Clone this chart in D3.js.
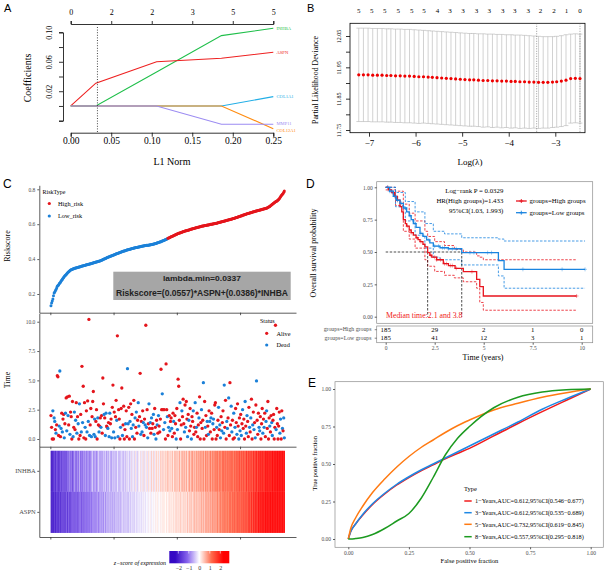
<!DOCTYPE html>
<html>
<head>
<meta charset="utf-8">
<title>Risk model figure</title>
<script src="https://cdnjs.cloudflare.com/ajax/libs/d3/7.8.5/d3.min.js"></script>
<style>
    body { margin: 0; background: #fff; }
    svg { display: block; font-family: "Liberation Serif", "DejaVu Serif", serif; }
</style>
</head>
<body>
<svg id="fig" width="608" height="576"></svg>
<script>
// ---------------- data ----------------
// A: lasso coefficient paths
const l1Knots = [0, 0.031, 0.106, 0.186, 0.25];
const coefINHBA = [0, 0, 0.046, 0.0955, 0.1054];
const coefASPN = [0, 0.031, 0.060, 0.0647, 0.0729];
const coefCOL1A1 = [0, 0, 0, 0, 0.0127];
const coefMMP11 = [0, 0, 0, -0.0249, -0.0249];
const coefCOL12A1 = [0, 0, 0, 0, -0.0308];
const l1Ticks = [0, 0.05, 0.10, 0.15, 0.20, 0.25];
const l1TopLabels = ["0", "2", "2", "3", "5", "5"];
const coefTicks = [-0.02, 0, 0.02, 0.04, 0.06, 0.08, 0.10];
const coefShown = ["-0.02", "0.02", "0.06", "0.10"];
const l1Min = 0.033;

// B: cross-validation curve
const logLambda = [-7.22,-7.12,-7.02,-6.92,-6.82,-6.72,-6.62,-6.53,-6.43,-6.33,-6.23,-6.13,-6.03,-5.93,-5.83,-5.73,-5.64,-5.54,-5.44,-5.34,-5.24,-5.14,-5.04,-4.94,-4.84,-4.75,-4.65,-4.55,-4.45,-4.35,-4.25,-4.15,-4.05,-3.95,-3.86,-3.76,-3.66,-3.56,-3.46,-3.36,-3.26,-3.16,-3.06,-2.97,-2.87,-2.77,-2.67,-2.57,-2.47];
const cvDev = [11.926,11.926,11.926,11.925,11.925,11.925,11.924,11.924,11.923,11.923,
  11.922,11.922,11.921,11.920,11.920,11.919,11.918,11.917,11.916,11.915,
  11.914,11.913,11.912,11.911,11.910,11.910,11.909,11.908,11.908,11.907,
  11.907,11.906,11.906,11.905,11.905,11.904,11.904,11.903,11.903,11.902,
  11.902,11.902,11.903,11.904,11.906,11.909,11.914,11.915,11.914];
const cvUp = [12.075,12.075,12.075,12.074,12.074,12.074,12.073,12.073,12.072,12.072,
  12.071,12.071,12.070,12.069,12.068,12.067,12.066,12.065,12.064,12.063,
  12.062,12.061,12.060,12.059,12.058,12.058,12.057,12.057,12.056,12.056,
  12.055,12.055,12.054,12.054,12.053,12.053,12.052,12.051,12.050,12.049,
  12.048,12.048,12.048,12.049,12.051,12.054,12.056,12.057,12.056];
const cvLo = [11.777,11.777,11.777,11.776,11.776,11.776,11.775,11.775,11.774,11.774,
  11.773,11.773,11.772,11.771,11.772,11.771,11.770,11.769,11.768,11.767,
  11.766,11.765,11.764,11.763,11.762,11.762,11.761,11.759,11.760,11.758,
  11.759,11.757,11.758,11.756,11.757,11.755,11.756,11.755,11.756,11.755,
  11.756,11.756,11.758,11.759,11.761,11.764,11.772,11.773,11.772];
const topPosB = [-7.22,-6.94,-6.66,-6.37,-6.08,-5.82,-5.53,-5.26,-4.98,-4.69,-4.42,-4.13,-3.87,-3.58,-3.32,-3.03,-2.76,-2.47];
const topLabB = ["5","5","5","5","5","5","4","3","3","3","3","3","3","3","2","2","1","0"];
const devTicks = [11.75, 11.80, 11.85, 11.90, 11.95, 12.00, 12.05];
const devShown = ["11.75", "11.85", "11.95", "12.05"];
const lambdaLines = [-3.40, -2.47];

// C: risk score, survival status, expression heatmap (patients sorted by risk score)
const riskScore = [0.133,0.148,0.16,0.172,0.19,0.206,0.212,0.219,0.226,0.235,
  0.244,0.248,0.252,0.258,0.263,0.268,0.274,0.279,0.285,0.29,
  0.295,0.3,0.304,0.308,0.312,0.316,0.32,0.324,0.328,0.331,
  0.334,0.337,0.339,0.341,0.342,0.344,0.345,0.347,0.348,0.349,
  0.350,0.351,0.352,0.353,0.354,0.355,0.356,0.358,0.359,0.360,
  0.361,0.362,0.363,0.364,0.365,0.366,0.367,0.368,0.369,0.370,
  0.371,0.372,0.373,0.374,0.375,0.376,0.377,0.378,0.380,0.381,
  0.382,0.383,0.384,0.385,0.386,0.387,0.388,0.389,0.390,0.392,
  0.394,0.395,0.397,0.399,0.400,0.402,0.404,0.405,0.407,0.409,
  0.410,0.412,0.413,0.415,0.417,0.418,0.419,0.421,0.422,0.424,
  0.425,0.427,0.428,0.430,0.431,0.432,0.434,0.435,0.437,0.438,
  0.439,0.441,0.442,0.443,0.445,0.446,0.447,0.448,0.449,0.450,
  0.452,0.453,0.454,0.455,0.456,0.457,0.458,0.459,0.460,0.461,
  0.462,0.463,0.464,0.465,0.466,0.466,0.467,0.468,0.469,0.470,
  0.471,0.471,0.472,0.473,0.474,0.475,0.475,0.476,0.477,0.478,
  0.478,0.479,0.479,0.480,0.480,0.481,0.481,0.482,0.482,0.483,
  0.484,0.485,0.486,0.487,0.488,0.489,0.490,0.491,0.493,0.494,
  0.495,0.496,0.498,0.499,0.500,0.502,0.503,0.505,0.507,0.508,
  0.510,0.512,0.513,0.515,0.517,0.519,0.521,0.522,0.524,0.526,
  0.528,0.530,0.531,0.533,0.535,0.537,0.538,0.540,0.542,0.543,
  0.545,0.546,0.548,0.549,0.550,0.552,0.553,0.554,0.556,0.557,
  0.558,0.559,0.561,0.562,0.563,0.564,0.565,0.566,0.567,0.568,
  0.570,0.571,0.572,0.573,0.574,0.575,0.576,0.577,0.578,0.579,
  0.580,0.581,0.582,0.583,0.584,0.585,0.586,0.587,0.588,0.589,
  0.590,0.590,0.591,0.592,0.593,0.593,0.594,0.595,0.596,0.596,
  0.597,0.598,0.599,0.599,0.600,0.601,0.601,0.602,0.603,0.604,
  0.604,0.605,0.606,0.607,0.608,0.609,0.610,0.611,0.612,0.613,
  0.614,0.615,0.616,0.617,0.618,0.619,0.620,0.621,0.622,0.623,
  0.624,0.625,0.626,0.627,0.628,0.629,0.630,0.631,0.632,0.633,
  0.634,0.635,0.637,0.638,0.639,0.640,0.642,0.643,0.644,0.646,
  0.647,0.648,0.649,0.651,0.652,0.653,0.655,0.656,0.657,0.659,
  0.660,0.661,0.662,0.663,0.664,0.665,0.666,0.667,0.669,0.670,
  0.671,0.672,0.673,0.674,0.675,0.676,0.677,0.678,0.679,0.680,
  0.681,0.682,0.683,0.684,0.685,0.686,0.687,0.688,0.689,0.690,
  0.691,0.692,0.694,0.696,0.698,0.700,0.702,0.705,0.708,0.711,
  0.714,0.717,0.720,0.723,0.726,0.728,0.730,0.733,0.735,0.738,
  0.742,0.746,0.751,0.757,0.763,0.768,0.772,0.776,0.783,0.790];
const nLowRisk = 185;
const survTime = [2.0,1.0,0.0,2.4,0.0,1.8,1.5,0.8,0.5,1.2,
  5.4,5.3,0.3,1.1,5.8,0.2,0.9,2.2,0.6,1.7,
  2.1,0.1,1.3,2.2,3.5,0.7,3.6,2.0,1.2,3.65,
  0.4,2.3,1.9,0.0,3.2,0.2,1.0,2.3,0.8,1.6,
  3.1,0.5,1.9,1.3,0.0,3.0,0.3,2.1,0.6,6.2,
  1.4,4.5,0.1,3.1,1.0,0.0,2.4,0.6,3.25,1.5,
  10.2,0.3,1.2,2.6,0.2,1.9,3.2,4.05,0.4,1.7,
  0.2,1.5,2.5,0.0,1.8,1.2,0.6,1.1,1.8,1.0,
  2.0,0.5,5.2,3.0,2.1,1.8,0.3,2.2,1.1,1.0,
  0.9,1.4,0.2,2.2,1.3,1.7,0.1,2.7,4.6,0.6,
  2.3,0.1,1.9,3.3,1.6,8.8,0.2,2.5,1.7,0.0,
  1.0,2.6,4.35,0.3,1.2,2.8,0.0,0.8,1.3,2.4,
  0.2,6.0,1.3,2.7,0.0,1.5,3.0,0.9,2.1,0.2,
  1.2,3.3,0.0,1.8,1.0,2.3,0.5,1.6,3.1,1.1,
  1.9,5.6,0.4,1.5,0.6,2.4,1.4,0.3,1.7,1.2,
  9.7,1.0,2.5,0.1,1.3,3.0,0.9,1.4,0.5,1.8,
  0.9,1.3,2.1,0.4,2.6,1.0,0.0,1.6,1.2,0.5,
  2.0,1.1,0.6,1.7,5.95,2.5,3.85,2.5,0.8,2.5,
  1.4,0.0,6.4,2.5,1.9,0.3,1.0,2.0,0.7,1.5,
  1.8,0.9,0.2,2.2,1.5,0.5,2.0,1.3,0.0,2.6,
  0.8,5.1,4.5,1.6,3.1,0.0,1.2,2.4,1.9,3.4,
  1.3,0.6,2.9,1.0,3.2,1.7,0.2,2.1,1.6,0.7,
  2.6,1.1,0.0,1.9,1.5,2.4,0.4,1.0,3.1,0.6,
  1.0,2.2,0.2,1.2,1.8,3.6,0.0,1.4,2.5,0.9,
  1.6,4.8,0.0,3.2,1.0,2.0,0.3,1.5,1.1,0.4,
  2.4,1.5,0.6,1.8,2.2,0.0,1.3,1.7,0.8,2.9,
  3.1,0.0,1.0,0.3,1.6,2.7,0.8,1.2,0.1,1.9,
  0.7,1.4,2.4,0.5,4.6,1.0,3.3,0.0,1.5,0.9,
  1.8,3.5,0.3,4.8,1.2,2.8,0.6,1.6,0.0,2.2,
  0.1,1.0,2.6,1.4,0.4,3.0,1.1,0.0,1.8,0.7,
  2.1,0.3,1.3,2.5,0.9,1.7,0.0,3.2,1.1,0.5,
  2.0,1.5,0.2,2.7,1.0,0.6,1.8,3.4,0.0,1.2,
  2.3,0.8,1.4,0.1,2.9,4.95,1.6,0.4,2.2,1.0,
  0.7,1.9,0.0,1.3,2.6,0.5,1.7,1.0,2.2,0.2,
  1.5,2.4,0.9,3.2,0.0,1.8,1.1,0.6,2.0,1.4,
  0.3,1.6,2.1,0.0,1.0,9.7,0.8,2.6,1.3,0.0,
  1.1,2.3,0.5,1.7,0.0,2.4,0.9,0.7,1.8,0.1];
// A = Alive, D = Dead
const survStatus = ("AAADADDADA" + "AAADDADADA" + "ADADADADAA" + "DAAAADADAD" + "ADADADAADA" +
  "DAAADAADAD" + "ADAADAAADD" + "DAAADADAAD" + "AAAADADDAA" + "DADDAADAAD" +
  "ADAADADAAA" + "DAADAAAADA" + "ADDAADADAD" + "DAADADAADD" + "AADADADAAD" +
  "ADADADADAD" + "AADDAADADA" + "DAAAAADADA" + "DAAADADADA" + "ADAADAAADA" +
  "DAAADAADAA" + "ADADAADADA" + "AADAADAADA" + "DAAADAAADA" + "ADAADAADAD" +
  "ADADAADDAA" + "AADAADADDA" + "DAADDAAADD" + "ADAAADDAAD" + "ADAADAADAD" +
  "ADADAAADAD" + "DAAADADAAD" + "ADADADAAAD" + "DAAAADADAA" + "DDAAAADAAD" +
  "DAAAAADAAA" + "AADDAADADD").split("");
const exprINHBA = [-2.8,-2.3,-2.0,-2.2,-1.8,-2.1,-1.6,-1.9,-2.0,-1.5,
  -1.8,-1.4,-2.1,-1.7,-1.9,-1.3,-1.6,-2.0,-1.2,-1.7,
  -1.5,-1.9,-1.1,-1.6,-1.4,-1.8,-1.0,-1.5,-1.3,-0.6,
  -1.6,-1.2,-1.4,-0.9,-1.7,-1.1,-1.3,-0.5,-1.4,-1.2,
  -1.0,-1.5,-0.8,-1.3,-1.1,-0.4,-1.2,-1.4,-0.9,-1.1,
  -1.3,-0.7,-1.0,-1.2,-0.3,-1.1,-0.9,-1.3,-0.8,-1.0,
  -0.6,-1.2,-0.9,-1.0,-0.5,-1.1,-0.2,-0.8,-1.0,-0.7,
  -0.9,-0.4,-1.1,-0.6,-0.8,-0.1,-0.9,-0.7,-0.5,-1.0,
  -0.7,-0.5,-0.9,-0.3,-0.8,-0.6,-0.2,-0.7,-0.9,-0.4,
  -0.6,-0.8,-0.1,-0.5,-0.7,-0.4,-0.9,-0.3,-0.6,-0.5,
  -0.8,-0.2,-0.6,-0.4,-0.7,0.0,-0.5,-0.6,-0.3,-0.8,
  -0.4,-0.6,-0.1,-0.5,-0.3,-0.7,-0.2,-0.4,-0.6,0.1,
  -0.5,-0.3,-0.4,-0.1,-0.6,-0.2,-0.3,0.2,-0.5,-0.2,
  -0.3,0.1,-0.4,-0.2,0.3,-0.3,-0.1,-0.5,0.2,-0.2,
  0.0,-0.3,0.3,-0.1,-0.4,0.2,-0.2,0.4,-0.3,0.1,
  -0.2,0.3,0.0,-0.4,0.2,0.4,-0.1,0.1,-0.3,0.5,
  0.1,-0.2,0.4,0.2,-0.3,0.3,0.0,0.5,-0.1,0.2,
  0.4,0.1,-0.2,0.5,0.2,0.3,0.6,-0.1,0.4,0.2,
  0.3,0.5,0.1,0.4,0.7,0.2,0.5,0.0,0.6,0.3,
  0.5,0.2,0.6,0.4,0.1,0.7,0.3,0.5,0.8,0.2,
  0.4,0.6,0.3,0.8,0.5,0.2,0.7,0.4,0.6,0.9,
  0.3,0.7,0.5,0.4,0.8,0.6,0.2,0.7,0.5,0.9,
  0.6,0.4,0.8,0.5,1.0,0.7,0.3,0.8,0.6,0.5,
  0.9,0.6,0.7,1.0,0.4,0.8,0.6,1.1,0.7,0.9,
  0.7,1.0,0.8,0.5,1.1,0.9,0.7,1.2,0.8,0.6,
  1.0,0.8,1.2,0.9,0.7,1.1,1.0,0.8,1.3,0.9,
  1.1,0.9,1.2,1.0,1.4,0.8,1.1,1.3,1.0,1.2,
  0.9,1.3,1.1,1.5,1.0,1.2,1.4,0.9,1.3,1.1,
  1.4,1.2,1.0,1.5,1.3,1.1,1.6,1.2,1.4,1.0,
  1.3,1.5,1.2,1.7,1.1,1.4,1.6,1.3,1.5,1.8,
  1.2,1.6,1.4,1.3,1.8,1.5,1.2,1.7,1.4,1.9,
  1.6,1.4,1.9,1.5,1.7,1.3,2.0,1.6,1.8,1.5,
  1.8,2.1,1.6,1.9,1.7,2.2,1.8,1.6,2.0,1.9,
  2.1,1.8,2.3,1.9,2.0,2.4,1.7,2.2,2.0,2.5,
  1.9,2.3,2.1,2.6,2.0,2.2,2.4,1.9,2.5,2.2,
  2.3,2.6,2.1,2.4,2.7,2.2,2.5,2.8,2.3,2.6,
  2.5,2.7,2.4,2.9,2.6,2.8,2.5,3.0,2.7,2.9];
const exprASPN = [-2.6,-2.2,-2.4,-1.9,-2.1,-2.3,-1.7,-2.0,-2.2,-1.8,
  -2.0,-1.6,-2.1,-1.9,-1.5,-2.0,-1.7,-1.8,-1.4,-1.9,
  -1.7,-1.9,-1.5,-1.8,-1.6,-1.3,-1.9,-1.6,-1.4,-1.7,
  -1.5,-1.8,-1.3,-1.6,-1.2,-1.7,-1.4,-1.5,-1.1,-1.6,
  -1.4,-1.2,-1.6,-1.3,-1.5,-1.0,-1.4,-1.2,-1.5,-1.3,
  -1.2,-1.5,-1.1,-1.3,-0.9,-1.4,-1.2,-1.0,-1.3,-1.1,
  -1.0,-1.3,-0.8,-1.1,-1.2,-0.9,-1.0,-0.7,-1.2,-0.9,
  -1.1,-0.8,-1.0,-0.6,-0.9,-1.1,-0.7,-0.9,-0.5,-1.0,
  -0.8,-0.9,-0.6,-1.0,-0.7,-0.5,-0.9,-0.8,-0.6,-0.4,
  -0.9,-0.6,-0.7,-0.5,-0.8,-0.3,-0.7,-0.6,-0.8,-0.5,
  -0.6,-0.8,-0.4,-0.7,-0.5,-0.6,-0.3,-0.7,-0.5,-0.4,
  -0.7,-0.4,-0.5,-0.2,-0.6,-0.5,-0.3,-0.6,-0.4,-0.5,
  -0.3,-0.5,-0.4,-0.6,-0.2,-0.4,-0.5,-0.1,-0.4,-0.3,
  -0.5,-0.2,-0.4,-0.3,-0.1,-0.4,-0.2,-0.3,0.0,-0.4,
  -0.2,-0.3,-0.1,-0.4,0.0,-0.2,-0.3,0.1,-0.1,-0.2,
  -0.3,0.0,-0.2,-0.1,0.1,-0.3,0.0,-0.1,0.2,-0.2,
  0.0,-0.1,0.1,-0.2,0.0,0.2,-0.1,0.1,0.0,0.3,
  -0.1,0.1,0.0,0.2,-0.1,0.1,0.3,0.0,0.2,0.1,
  0.2,0.0,0.1,0.3,0.1,0.0,0.2,0.4,0.1,0.2,
  0.1,0.3,0.2,0.0,0.4,0.2,0.1,0.3,0.5,0.2,
  0.3,0.1,0.4,0.2,0.3,0.5,0.1,0.4,0.2,0.3,
  0.4,0.2,0.5,0.3,0.1,0.4,0.6,0.3,0.2,0.5,
  0.3,0.5,0.4,0.6,0.2,0.5,0.4,0.7,0.3,0.5,
  0.6,0.4,0.5,0.3,0.7,0.5,0.6,0.4,0.8,0.5,
  0.5,0.7,0.6,0.4,0.8,0.6,0.7,0.9,0.5,0.7,
  0.8,0.6,0.7,0.9,0.6,0.8,1.0,0.7,0.9,0.8,
  0.7,0.9,0.8,1.1,0.9,0.7,1.0,0.9,1.2,0.8,
  1.0,1.1,0.9,1.2,1.0,1.3,1.1,0.9,1.2,1.1,
  1.2,1.0,1.3,1.1,1.4,1.2,1.0,1.3,1.5,1.2,
  1.3,1.5,1.2,1.4,1.1,1.6,1.3,1.5,1.4,1.2,
  1.5,1.3,1.6,1.4,1.7,1.5,1.3,1.8,1.6,1.4,
  1.7,1.5,1.8,1.6,1.9,1.7,1.5,2.0,1.8,1.6,
  1.9,2.1,1.8,2.0,2.2,1.9,2.1,1.8,2.3,2.0,
  2.2,2.0,2.4,2.1,2.3,2.5,2.2,2.0,2.4,2.3,
  2.4,2.6,2.3,2.5,2.2,2.7,2.4,2.6,2.3,2.5,
  2.6,2.4,2.7,2.5,2.8,2.6,2.4,2.7,2.9,2.6,
  2.7,2.9,2.6,2.8,3.0,2.7,2.9,2.8,3.0,2.9];
const heatGenes = ["INHBA", "ASPN"];
const riskTicks = [0.2, 0.4, 0.6, 0.8];
const timeTicks = [0, 2.5, 5, 7.5, 10];
const indexTicks = [0, 100, 200, 300];
const zTicks = [-2, -1, 0, 1, 2];

// D: Kaplan-Meier
const kmHighT = [0,0.15,0.3,0.45,0.6,0.73,0.82,0.9,1.0,1.07,1.2,1.3,1.41,1.55,1.65,1.75,1.9,2.0,2.14,2.25,2.35,2.6,2.94,3.2,3.54,3.96,4.64,4.8,4.98];
const kmHighS = [1.0,0.98,0.96,0.93,0.9,0.85,0.81,0.75,0.72,0.70,0.67,0.65,0.63,0.61,0.595,0.58,0.56,0.54,0.495,0.475,0.46,0.44,0.41,0.395,0.374,0.348,0.289,0.232,0.16];
const kmHighEnd = 9.74;
const kmHighUpT = [0,0.5,0.9,1.2,1.5,2.0,2.14,2.5,3.0,3.5,3.96,4.64,4.8,4.98];
const kmHighUpS = [1.0,0.97,0.87,0.80,0.74,0.66,0.62,0.58,0.55,0.52,0.50,0.47,0.46,0.44];
const kmHighLoT = [0,0.5,0.9,1.2,1.5,2.0,2.14,2.5,3.0,3.5,3.96,4.64,4.8,4.98];
const kmHighLoS = [0.98,0.86,0.66,0.60,0.53,0.44,0.39,0.35,0.32,0.30,0.27,0.22,0.11,0.05];
const kmLowT = [0,0.2,0.39,0.55,0.73,0.9,1.07,1.2,1.3,1.41,1.55,1.75,1.9,2.09,2.25,2.43,2.77,3.2,3.88,5.75,6.04];
const kmLowS = [1.0,0.97,0.93,0.9,0.876,0.84,0.81,0.78,0.75,0.72,0.69,0.644,0.62,0.593,0.57,0.546,0.533,0.525,0.495,0.433,0.366];
const kmLowEnd = 10.17;
const kmLowUpT = [0,0.5,1.0,1.5,2.0,2.43,3.0,3.88,5.75,6.04];
const kmLowUpS = [1.0,0.96,0.89,0.81,0.72,0.66,0.64,0.61,0.60,0.585];
const kmLowLoT = [0,0.5,1.0,1.5,2.0,2.43,2.77,3.88,5.75,6.04];
const kmLowLoS = [1.0,0.85,0.74,0.63,0.53,0.46,0.44,0.40,0.315,0.22];
const censHigh = [0.1,0.2,0.35,0.5,0.6,1.1,1.3,1.6,1.8,2.3,2.5,2.6,2.8,3.0,3.1,3.3,3.4,3.6,4.4,9.74];
const censLow = [0.1,0.2,0.3,0.45,0.6,0.8,1.0,1.25,1.5,1.8,2.2,2.5,2.7,2.9,3.0,3.2,3.4,3.6,4.3,4.5,5.2,5.4,7.0,9.0,10.17];
const medianTimes = [2.14, 3.88];
const riskTableTimes = [0, 2.5, 5, 7.5, 10];
const riskHigh = [185, 29, 2, 1, 0];
const riskLow = [185, 41, 12, 3, 1];
const survTicks = [0, 0.25, 0.5, 0.75, 1];

// E: time-dependent ROC
const rocFpr = [0,0.01,0.03,0.06,0.1,0.15,0.2,0.25,0.3,0.35,0.4,0.45,0.5,0.6,0.7,0.8,0.9,1];
const roc1y = [0,0.05,0.1,0.16,0.23,0.3,0.36,0.41,0.455,0.495,0.535,0.57,0.604,0.687,0.77,0.849,0.925,1];
const roc3y = [0,0.05,0.1,0.165,0.235,0.305,0.365,0.415,0.46,0.5,0.54,0.58,0.62,0.70,0.78,0.865,0.935,1];
const roc5y = [0,0.07,0.14,0.22,0.31,0.40,0.48,0.55,0.61,0.66,0.71,0.755,0.793,0.86,0.905,0.945,0.975,1];
const roc8y = [0,0,0.003,0.01,0.03,0.07,0.12,0.17,0.27,0.41,0.56,0.67,0.75,0.875,0.945,0.98,0.995,1];
const rocLabels = ["1\u2212Years,AUC=0.612,95%CI(0.546\u22120.677)", "3\u2212Years,AUC=0.612,95%CI(0.535\u22120.689)",
  "5\u2212Years,AUC=0.732,95%CI(0.619\u22120.845)", "8\u2212Years,AUC=0.557,95%CI(0.295\u22120.818)"];
const rocTicks = [0, 0.25, 0.5, 0.75, 1];

// ---------------- drawing ----------------
const SERIF = "Liberation Serif, DejaVu Serif, serif";
const SANS = "Liberation Sans, Arial, sans-serif";
const svg = d3.select("#fig");
svg.append("rect").attr("width", 608).attr("height", 576).attr("fill", "#fff");

function txt(g, x, y, s, o = {}) {
    return g.append("text").attr("x", x).attr("y", y).text(s)
        .attr("font-size", o.size || 8)
        .attr("fill", o.fill || "#000")
        .attr("text-anchor", o.anchor || "start")
        .attr("font-family", o.family || SERIF)
        .attr("font-weight", o.weight || null)
        .attr("font-style", o.style || null)
        .attr("transform", o.rot ? `rotate(${o.rot},${x},${y})` : null);
}
function axisStyle(g, size, color, lineColor) {
    g.attr("font-family", null).attr("font-size", null);
    g.selectAll(".tick text").attr("font-size", size).attr("fill", color).attr("font-family", SERIF);
    g.select(".domain").attr("stroke", lineColor || "#000").attr("stroke-width", 0.8);
    g.selectAll(".tick line").attr("stroke", lineColor || "#000").attr("stroke-width", 0.8);
}
// rotated (R style) y tick labels
function rotLabels(g, d) {
    g.selectAll(".tick text").attr("x", 0).attr("y", -d).attr("dy", 0)
        .attr("text-anchor", "middle").attr("transform", "rotate(-90)");
}

// panel letters
[["A", 4, 12, 11], ["B", 307, 12, 11], ["C", 3, 188, 12], ["D", 306, 188, 12], ["E", 308, 387, 12]]
    .forEach(p => txt(svg, p[1], p[2], p[0], { size: p[3], family: SANS }));

// ===== A =====
{
    const g = svg.append("g");
    const x = d3.scaleLinear().domain([0, 0.25]).range([70.7, 273.3]);
    const y = d3.scaleLinear().domain([-0.02, 0.10]).range([120.7, 32.3]);
    g.append("g").attr("transform", "translate(0,132.7)")
        .call(d3.axisBottom(x).tickValues(l1Ticks).tickFormat(d3.format(".2f")).tickSize(4).tickPadding(1))
        .call(a => axisStyle(a, 9.5, "#000"));
    g.append("g").attr("transform", "translate(0,24)")
        .call(d3.axisTop(x).tickValues(l1Ticks).tickFormat((d, i) => l1TopLabels[i]).tickSize(3).tickPadding(6))
        .call(a => axisStyle(a, 8, "#000"));
    g.append("g").attr("transform", "translate(63,0)")
        .call(d3.axisLeft(y).tickValues(coefTicks).tickSize(4)
            .tickFormat(d => { const s = d3.format(".2f")(d); return coefShown.includes(s) ? s : ""; }))
        .call(a => { axisStyle(a, 8, "#000"); rotLabels(a, 11); });
    txt(g, 172, 165, "L1 Norm", { size: 10, anchor: "middle" });
    txt(g, 31, 78, "Coefficients", { size: 10, anchor: "middle", rot: -90 });

    const series = [
        { name: "INHBA", v: coefINHBA, c: "#1fbf4a" },
        { name: "ASPN", v: coefASPN, c: "#ee2020" },
        { name: "COL1A1", v: coefCOL1A1, c: "#22aee6" },
        { name: "COL12A1", v: coefCOL12A1, c: "#ff8c10" },
        { name: "MMP11", v: coefMMP11, c: "#9c8cf2" }
    ];
    const line = d3.line().x(d => x(d[0])).y(d => y(d[1]));
    series.forEach(s => {
        g.append("path").attr("d", line(l1Knots.map((k, i) => [k, s.v[i]])))
            .attr("fill", "none").attr("stroke", s.c).attr("stroke-width", 1.1);
        const last = s.v[s.v.length - 1];
        const dy = s.name === "MMP11" ? -1.2 : (s.name === "COL12A1" ? 1.2 : 0);
        txt(g, 276.5, y(last) + 1.7 + dy, s.name, { size: 4.6, fill: s.c });
    });
    g.append("line").attr("x1", x(l1Min)).attr("x2", x(l1Min)).attr("y1", 27).attr("y2", 132.7)
        .attr("stroke", "#333").attr("stroke-width", 0.9).attr("stroke-dasharray", "1,1.6");
}

// ===== B =====
{
    const g = svg.append("g");
    const x = d3.scaleLinear().domain([-7, -3]).range([369, 555.3]);
    const y = d3.scaleLinear().domain([11.75, 12.05]).range([130, 36]);
    g.append("rect").attr("x", 350).attr("y", 23.3).attr("width", 235).attr("height", 109.4)
        .attr("fill", "none").attr("stroke", "#000").attr("stroke-width", 0.8);
    g.append("g").attr("transform", "translate(0,132.7)")
        .call(d3.axisBottom(x).ticks(5).tickFormat(d => d3.format("d")(d).replace("-", "\u2212")).tickSize(4).tickPadding(3))
        .call(a => { axisStyle(a, 9, "#000"); a.select(".domain").remove(); });
    g.append("g").attr("transform", "translate(350,0)")
        .call(d3.axisLeft(y).tickValues(devTicks).tickSize(4)
            .tickFormat(d => { const s = d3.format(".2f")(d); return devShown.includes(s) ? s : ""; }))
        .call(a => { axisStyle(a, 6, "#000"); a.select(".domain").remove(); rotLabels(a, 9); });
    topPosB.forEach((p, i) => txt(g, x(p), 12.5, topLabB[i], { size: 7, anchor: "middle" }));
    txt(g, 470, 165, "Log(\u03bb)", { size: 9, anchor: "middle" });
    txt(g, 318, 80, "Partial Likelihood Deviance", { size: 7.8, anchor: "middle", rot: -90 });

    logLambda.forEach((l, i) => {
        const xx = x(l);
        g.append("line").attr("x1", xx).attr("x2", xx).attr("y1", y(cvUp[i])).attr("y2", y(cvLo[i]))
            .attr("stroke", "#b4b4b4").attr("stroke-width", 0.6);
        [cvUp[i], cvLo[i]].forEach(v => g.append("line").attr("x1", xx - 2.4).attr("x2", xx + 2.4)
            .attr("y1", y(v)).attr("y2", y(v)).attr("stroke", "#b4b4b4").attr("stroke-width", 0.6));
    });
    lambdaLines.forEach(l => g.append("line").attr("x1", x(l)).attr("x2", x(l)).attr("y1", 23.3).attr("y2", 132.7)
        .attr("stroke", "#555").attr("stroke-width", 0.6).attr("stroke-dasharray", "1,1.5"));
    g.selectAll("circle.cv").data(logLambda).join("circle").attr("class", "cv")
        .attr("cx", d => x(d)).attr("cy", (d, i) => y(cvDev[i])).attr("r", 1.6).attr("fill", "#ee0000");
}

// ===== C =====
{
    const g = svg.append("g");
    const RED = "#e4151c", BLUE = "#1b80d8";
    const x = d3.scaleLinear().domain([-17.45, 388.45]).range([39.3, 296]);
    const yR = d3.scaleLinear().domain([0.0928, 0.8229]).range([312.7, 185.3]);
    const yT = d3.scaleLinear().domain([-0.656, 10.71]).range([446.7, 313.4]);
    const yH = d3.scaleBand().domain(heatGenes).range([446.7, 537]).paddingInner(0).paddingOuter(0.1);

    const leftAxis = (scale, ticks, fmt) => d3.axisLeft(scale).tickValues(ticks).tickFormat(fmt).tickSize(2).tickPadding(2).tickSizeOuter(0);
    const bottomAxis = () => d3.axisBottom(x).tickValues(indexTicks).tickFormat("").tickSize(2.5).tickSizeOuter(0);

    g.append("g").attr("transform", "translate(39.3,0)").call(leftAxis(yR, riskTicks, d3.format(".1f")))
        .call(a => axisStyle(a, 5.5, "#4d4d4d", "#333"));
    g.append("g").attr("transform", "translate(0,312.7)").call(bottomAxis()).call(a => axisStyle(a, 5, "#4d4d4d", "#333"));
    g.append("g").attr("transform", "translate(39.3,0)").call(leftAxis(yT, timeTicks, d3.format(".1f")))
        .call(a => axisStyle(a, 5.5, "#4d4d4d", "#333"));
    g.append("g").attr("transform", "translate(0,446.7)").call(bottomAxis()).call(a => axisStyle(a, 5, "#4d4d4d", "#333"));
    g.append("g").attr("transform", "translate(39.3,0)").call(d3.axisLeft(yH).tickSize(2).tickPadding(1.5).tickSizeOuter(0))
        .call(a => axisStyle(a, 6.5, "#4d4d4d", "#333"));
    g.append("g").attr("transform", "translate(0,537)").call(bottomAxis()).call(a => axisStyle(a, 5, "#4d4d4d", "#333"));

    txt(g, 9.5, 246, "Riskscore", { size: 8, anchor: "middle", rot: -90 });
    txt(g, 9.5, 380, "Time", { size: 8, anchor: "middle", rot: -90 });

    // risk score curve
    g.selectAll("circle.rs").data(riskScore).join("circle").attr("class", "rs")
        .attr("cx", (d, i) => x(i + 1)).attr("cy", d => yR(d)).attr("r", 1.5)
        .attr("fill", (d, i) => i < nLowRisk ? BLUE : RED);
    txt(g, 42.5, 193.5, "RiskType", { size: 6 });
    g.append("circle").attr("cx", 49.3).attr("cy", 203.5).attr("r", 1.6).attr("fill", RED);
    g.append("circle").attr("cx", 49.3).attr("cy", 216).attr("r", 1.6).attr("fill", BLUE);
    txt(g, 58, 205.8, "High_risk", { size: 6.3 });
    txt(g, 58, 218.3, "Low_risk", { size: 6.3 });
    g.append("rect").attr("x", 113.3).attr("y", 271.7).attr("width", 177.4).attr("height", 28.3).attr("fill", "#a6a6a6");
    txt(g, 202, 281.3, "lambda.min=0.0337", { size: 8, anchor: "middle", family: SANS, weight: "bold", fill: "#222" })
        .attr("textLength", 78).attr("lengthAdjust", "spacingAndGlyphs");
    txt(g, 202, 295.5, "Riskscore=(0.0557)*ASPN+(0.0386)*INHBA", { size: 8.5, anchor: "middle", family: SANS, weight: "bold", fill: "#222" })
        .attr("textLength", 172).attr("lengthAdjust", "spacingAndGlyphs");

    // survival status
    g.selectAll("circle.st").data(survTime).join("circle").attr("class", "st")
        .attr("cx", (d, i) => x(i + 1)).attr("cy", d => yT(d)).attr("r", 1.65)
        .attr("fill", (d, i) => survStatus[i] === "D" ? BLUE : RED);
    txt(g, 260, 322.5, "Status", { size: 6 });
    g.append("circle").attr("cx", 266.7).attr("cy", 333.3).attr("r", 1.6).attr("fill", RED);
    g.append("circle").attr("cx", 266.7).attr("cy", 345).attr("r", 1.6).attr("fill", BLUE);
    txt(g, 276.5, 335.5, "Alive", { size: 6.3 });
    txt(g, 276.5, 347.2, "Dead", { size: 6.3 });

    // heatmap
    const z = d3.scaleLinear().domain([-2.3, -1.1, 0, 1.1, 2.3])
        .range(["#3508c4", "#8a68ee", "#ffffff", "#ff7050", "#ff0000"]).clamp(true);
    const colW = x(2) - x(1);
    [exprINHBA, exprASPN].forEach((vals, gi) => {
        g.append("g").selectAll("rect").data(vals).join("rect")
            .attr("x", (d, i) => x(i + 0.5)).attr("width", colW + 0.25)
            .attr("y", yH(heatGenes[gi])).attr("height", yH.bandwidth())
            .attr("fill", d => z(d));
    });
    // colour bar
    const zx = d3.scaleLinear().domain([-2.86, 2.86]).range([169.3, 229.3]);
    const grad = svg.append("defs").append("linearGradient").attr("id", "zgrad");
    d3.range(0, 1.0001, 0.1).forEach(t => grad.append("stop").attr("offset", t)
        .attr("stop-color", z(zx.invert(169.3 + t * 60))));
    g.append("rect").attr("x", 169.3).attr("y", 551).attr("width", 60).attr("height", 12.3).attr("fill", "url(#zgrad)");
    g.append("g").attr("transform", "translate(0,563.3)")
        .call(d3.axisBottom(zx).tickValues(zTicks).tickFormat(d => d3.format("d")(d).replace("-", "\u2212")).tickSize(0).tickPadding(2.5))
        .call(a => { axisStyle(a, 6, "#333"); a.select(".domain").remove(); });
    zTicks.forEach(t => g.append("line").attr("x1", zx(t)).attr("x2", zx(t)).attr("y1", 551).attr("y2", 553.5).attr("stroke", "#fff").attr("stroke-width", 0.6));
    txt(g, 166, 564.5, "z\u2212score of expression", { size: 6, anchor: "end", style: "italic" });
}

// ===== D =====
{
    const g = svg.append("g");
    const RED = "#e8141e", BLUE = "#1a84e0";
    const x = d3.scaleLinear().domain([0, 10]).range([385.7, 581.7]);
    const y = d3.scaleLinear().domain([0, 1]).range([316.7, 187.3]);
    g.append("rect").attr("x", 376.7).attr("y", 181.7).attr("width", 216).attr("height", 141.6)
        .attr("fill", "none").attr("stroke", "#8c8c8c").attr("stroke-width", 0.7);
    g.append("g").attr("transform", "translate(376.7,0)")
        .call(d3.axisLeft(y).tickValues(survTicks).tickFormat(d3.format(".2f")).tickSize(2).tickPadding(2))
        .call(a => { axisStyle(a, 5.5, "#4d4d4d", "#333"); a.select(".domain").remove(); });
    txt(g, 316, 253, "Overall survival probability", { size: 8, anchor: "middle", rot: -90 });

    const step = d3.line().x(d => x(d[0])).y(d => y(d[1])).curve(d3.curveStepAfter);
    const pts = (T, S, end) => { const p = T.map((t, i) => [t, S[i]]); p.push([end, S[S.length - 1]]); return p; };
    const dashed = [[kmHighUpT, kmHighUpS, kmHighEnd, RED], [kmHighLoT, kmHighLoS, kmHighEnd, RED],
        [kmLowUpT, kmLowUpS, kmLowEnd, BLUE], [kmLowLoT, kmLowLoS, kmLowEnd, BLUE]];
    dashed.forEach(d => g.append("path").attr("d", step(pts(d[0], d[1], d[2])))
        .attr("fill", "none").attr("stroke", d[3]).attr("stroke-width", 0.8).attr("stroke-dasharray", "2.5,1.5"));

    // median lines
    g.append("line").attr("x1", x(0)).attr("x2", x(medianTimes[1])).attr("y1", y(0.5)).attr("y2", y(0.5))
        .attr("stroke", "#000").attr("stroke-width", 0.7).attr("stroke-dasharray", "2.5,1.5");
    medianTimes.forEach(t => g.append("line").attr("x1", x(t)).attr("x2", x(t)).attr("y1", y(0.5)).attr("y2", y(0))
        .attr("stroke", "#000").attr("stroke-width", 0.7).attr("stroke-dasharray", "2.5,1.5"));

    const curves = [[kmHighT, kmHighS, kmHighEnd, RED, censHigh], [kmLowT, kmLowS, kmLowEnd, BLUE, censLow]];
    curves.forEach(c => {
        g.append("path").attr("d", step(pts(c[0], c[1], c[2])))
            .attr("fill", "none").attr("stroke", c[3]).attr("stroke-width", 1.3);
        c[4].forEach(t => {
            const s = c[1][Math.max(0, d3.bisectRight(c[0], t) - 1)];
            const cx = x(t), cy = y(s);
            g.append("path").attr("d", `M${cx - 2},${cy}H${cx + 2}M${cx},${cy - 2}V${cy + 2}`)
                .attr("stroke", c[3]).attr("stroke-opacity", 0.45).attr("stroke-width", 0.9);
        });
    });

    txt(g, 503.3, 193, "Log\u2212rank P = 0.0329", { size: 6.8, anchor: "end" });
    txt(g, 503.3, 203, "HR(High groups)=1.433", { size: 6.8, anchor: "end" });
    txt(g, 503.3, 213, "95%CI(1.03, 1.993)", { size: 6.8, anchor: "end" });
    [[201, RED, "groups=High groups"], [212.7, BLUE, "groups=Low groups"]].forEach(l => {
        g.append("line").attr("x1", 516).attr("x2", 526.7).attr("y1", l[0]).attr("y2", l[0]).attr("stroke", l[1]).attr("stroke-width", 1.3);
        g.append("path").attr("d", `M519.3,${l[0]}H523.3M521.3,${l[0] - 2}V${l[0] + 2}`).attr("stroke", l[1]).attr("stroke-width", 0.9);
        txt(g, 529.5, l[0] + 2.3, l[2], { size: 6.8 });
    });
    txt(g, 386, 317.5, "Median time:2.1 and 3.8", { size: 7.8, fill: "#f01818" });

    // risk table
    g.append("rect").attr("x", 376.7).attr("y", 326).attr("width", 216).attr("height", 16.7)
        .attr("fill", "none").attr("stroke", "#8c8c8c").attr("stroke-width", 0.7);
    [[riskHigh, 331.7, "groups=High groups"], [riskLow, 340.2, "groups=Low groups"]].forEach(r => {
        r[0].forEach((n, i) => txt(g, x(riskTableTimes[i]), r[1], n, { size: 6.8, anchor: "middle" }));
        txt(g, 371.5, r[1] - 0.3, r[2], { size: 5.8, anchor: "end", fill: "#4d4d4d" });
        g.append("line").attr("x1", 374.7).attr("x2", 376.7).attr("y1", r[1] - 2).attr("y2", r[1] - 2).attr("stroke", "#333").attr("stroke-width", 0.6);
    });
    g.append("g").attr("transform", "translate(0,342.7)")
        .call(d3.axisBottom(x).tickValues(riskTableTimes).tickFormat(d3.format("")).tickSize(2).tickPadding(1.5))
        .call(a => { axisStyle(a, 5.5, "#4d4d4d", "#333"); a.select(".domain").remove(); });
    txt(g, 483, 360, "Time (years)", { size: 8, anchor: "middle" });
}

// ===== E =====
{
    const g = svg.append("g");
    const x = d3.scaleLinear().domain([0, 1]).range([348.3, 590.7]);
    const y = d3.scaleLinear().domain([0, 1]).range([539, 389]);
    g.append("rect").attr("x", 335).attr("y", 381.7).attr("width", 268.3).attr("height", 165.6)
        .attr("fill", "none").attr("stroke", "#8c8c8c").attr("stroke-width", 0.7);
    g.append("g").attr("transform", "translate(335,0)")
        .call(d3.axisLeft(y).tickValues(rocTicks).tickFormat(d3.format(".2f")).tickSize(2).tickPadding(2))
        .call(a => { axisStyle(a, 5.5, "#4d4d4d", "#333"); a.select(".domain").remove(); });
    g.append("g").attr("transform", "translate(0,547.3)")
        .call(d3.axisBottom(x).tickValues(rocTicks).tickFormat(d3.format(".2f")).tickSize(2).tickPadding(1.5))
        .call(a => { axisStyle(a, 5.5, "#4d4d4d", "#333"); a.select(".domain").remove(); });
    txt(g, 469.5, 563, "False positive fraction", { size: 6.5, anchor: "middle" });
    txt(g, 317, 463.3, "True positive fraction", { size: 6.3, anchor: "middle", rot: -90 });

    const line = d3.line().x(d => x(d[0])).y(d => y(d[1])).curve(d3.curveMonotoneX);
    const rocs = [[roc1y, "#f21b1b"], [roc3y, "#1e88e5"], [roc5y, "#ff7a12"], [roc8y, "#1c9a20"]];
    rocs.forEach(r => g.append("path").attr("d", line(rocFpr.map((f, i) => [f, r[0][i]])))
        .attr("fill", "none").attr("stroke", r[1]).attr("stroke-width", 1.5));
    txt(g, 464, 490.5, "Type", { size: 6.5 });
    [501, 512.7, 524.3, 536.7].forEach((yy, i) => {
        g.append("line").attr("x1", 464.3).attr("x2", 471.7).attr("y1", yy).attr("y2", yy)
            .attr("stroke", rocs[i][1]).attr("stroke-width", 1.5);
        txt(g, 475, yy + 2.2, rocLabels[i], { size: 6.3 });
    });
}
</script>
</body>
</html>
